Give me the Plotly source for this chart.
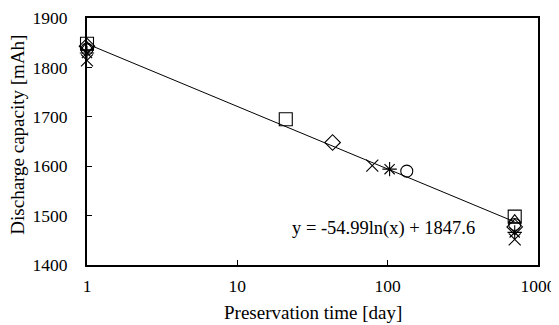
import numpy as np
import plotly.graph_objects as go

# Data
sq_x = [1, 21, 700]
sq_y = [1848, 1695, 1498]
di_x = [1, 43, 700]
di_y = [1843, 1648, 1477]
tr_x = [1, 700]
tr_y = [1841, 1491]
ci_x = [1, 134, 700]
ci_y = [1837, 1590, 1482]
as_x = [1, 103, 700]
as_y = [1829, 1594, 1466]
xc_x = [1, 79, 700]
xc_y = [1814, 1601, 1452]

fit_a = -54.99
fit_b = 1847.6
fit_xmin, fit_xmax = 1, 700

x_ticks = [1, 10, 100, 1000]
y_ticks = [1400, 1500, 1600, 1700, 1800, 1900]

font_fam = "Liberation Serif, Times New Roman, serif"

fig = go.Figure()

fx = np.logspace(np.log10(fit_xmin), np.log10(fit_xmax), 200)
fy = fit_a * np.log(fx) + fit_b
fig.add_trace(go.Scatter(x=fx, y=fy, mode="lines",
                         line=dict(color="black", width=1), showlegend=False))

series = [
    (sq_x, sq_y, "square-open", 13),
    (di_x, di_y, "diamond-open", 12),
    (tr_x, tr_y, "triangle-up-open", 11),
    (ci_x, ci_y, "circle-open", 12),
    (as_x, as_y, "asterisk-open", 12),
    (xc_x, xc_y, "x-thin-open", 12),
]
for xs, ys, sym, sz in series:
    fig.add_trace(go.Scatter(x=xs, y=ys, mode="markers", cliponaxis=False,
                             marker=dict(symbol=sym, size=sz, color="black",
                                         line=dict(color="black", width=1.1)),
                             showlegend=False))

fig.add_annotation(x=np.log10(94), y=1474, xref="x", yref="y",
                   text="y = -54.99ln(x) + 1847.6", showarrow=False,
                   font=dict(family=font_fam, size=18.5, color="black"),
                   xanchor="center", yanchor="middle")

# axis titles
fig.add_annotation(x=0.5, y=-0.194, xref="paper", yref="paper",
                   text="Preservation time [day]", showarrow=False,
                   font=dict(family=font_fam, size=19, color="black"),
                   xanchor="center", yanchor="middle")
fig.add_annotation(x=-0.155, y=0.528, xref="paper", yref="paper",
                   text="Discharge capacity [mAh]", showarrow=False, textangle=-90,
                   font=dict(family=font_fam, size=19, color="black"),
                   xanchor="center", yanchor="middle")

# page body has an 8px default margin, so the figure is sized to fit inside it
fig.update_layout(
    width=551, height=317,
    margin=dict(l=79, r=21, t=10, b=60),
    paper_bgcolor="white", plot_bgcolor="white",
    font=dict(family=font_fam, size=17.5, color="black"),
)
fig.update_xaxes(
    type="log", range=[0, 3], automargin=False,
    tickvals=x_ticks, ticktext=[str(v) for v in x_ticks],
    ticks="inside", ticklen=5, tickwidth=1, tickcolor="black",
    showline=True, linecolor="black", linewidth=2, mirror=True,
    showgrid=False, zeroline=False, ticklabelstandoff=4,
    tickfont=dict(size=17.5),
)
fig.update_yaxes(
    range=[1400, 1900], tickvals=y_ticks, automargin=False,
    ticks="inside", ticklen=5, tickwidth=1, tickcolor="black",
    showline=True, linecolor="black", linewidth=2, mirror=True,
    showgrid=False, zeroline=False, ticklabelstandoff=14,
    tickfont=dict(size=17.5),
)

fig.write_html("out.html")
